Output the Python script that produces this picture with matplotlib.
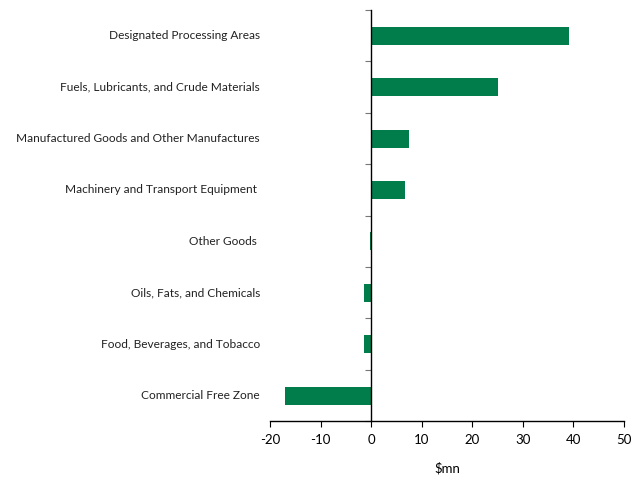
import matplotlib
matplotlib.use("Agg")
import matplotlib.pyplot as plt
import matplotlib.transforms as mtransforms

categories = [
    "Designated Processing Areas",
    "Fuels, Lubricants, and Crude Materials",
    "Manufactured Goods and Other Manufactures",
    "Machinery and Transport Equipment ",
    "Other Goods ",
    "Oils, Fats, and Chemicals",
    "Food, Beverages, and Tobacco",
    "Commercial Free Zone",
]
values = [39.2, 25.0, 7.4, 6.6, -0.3, -1.5, -1.5, -17.0]
x_ticks = [-20, -10, 0, 10, 20, 30, 40, 50]
x_label = "$mn"

plt.rcParams["font.family"] = ["Lato", "DejaVu Sans"]

fig = plt.figure(figsize=(6.4, 4.78), dpi=100)
ax = fig.add_axes([0.4219, 0.1186, 0.5531, 0.8604])

pos = list(range(len(categories)))
ax.barh(pos, values, height=0.35, color="#007D4B", zorder=2)

ax.set_xlim(-20, 50)
ax.set_ylim(len(categories) - 0.5, -0.5)
ax.set_xticks(x_ticks)
ax.set_xticklabels([str(t) for t in x_ticks], fontsize=9.5)
ax.tick_params(axis="x", direction="out", length=4, width=0.8, color="black", pad=5)

# vertical axis drawn at zero, with ticks between categories
ax.spines["left"].set_position(("data", 0))
ax.spines["right"].set_visible(False)
ax.spines["top"].set_visible(False)
ax.spines["left"].set_linewidth(1.0)
ax.spines["bottom"].set_linewidth(1.0)
ax.set_yticks([p - 0.5 for p in pos] + [len(categories) - 0.5])
ax.set_yticklabels([])
ax.tick_params(axis="y", direction="out", length=4, width=0.8, color="#777777")

# category labels along the left edge of the plot area
trans = mtransforms.blended_transform_factory(ax.transAxes, ax.transData)
for p, name in zip(pos, categories):
    ax.text(-0.028, p, name, transform=trans, ha="right", va="center", fontsize=8.6, color="#222222")

ax.set_xlabel(x_label, fontsize=9.5, labelpad=12)

fig.savefig("out.png", dpi=100)
